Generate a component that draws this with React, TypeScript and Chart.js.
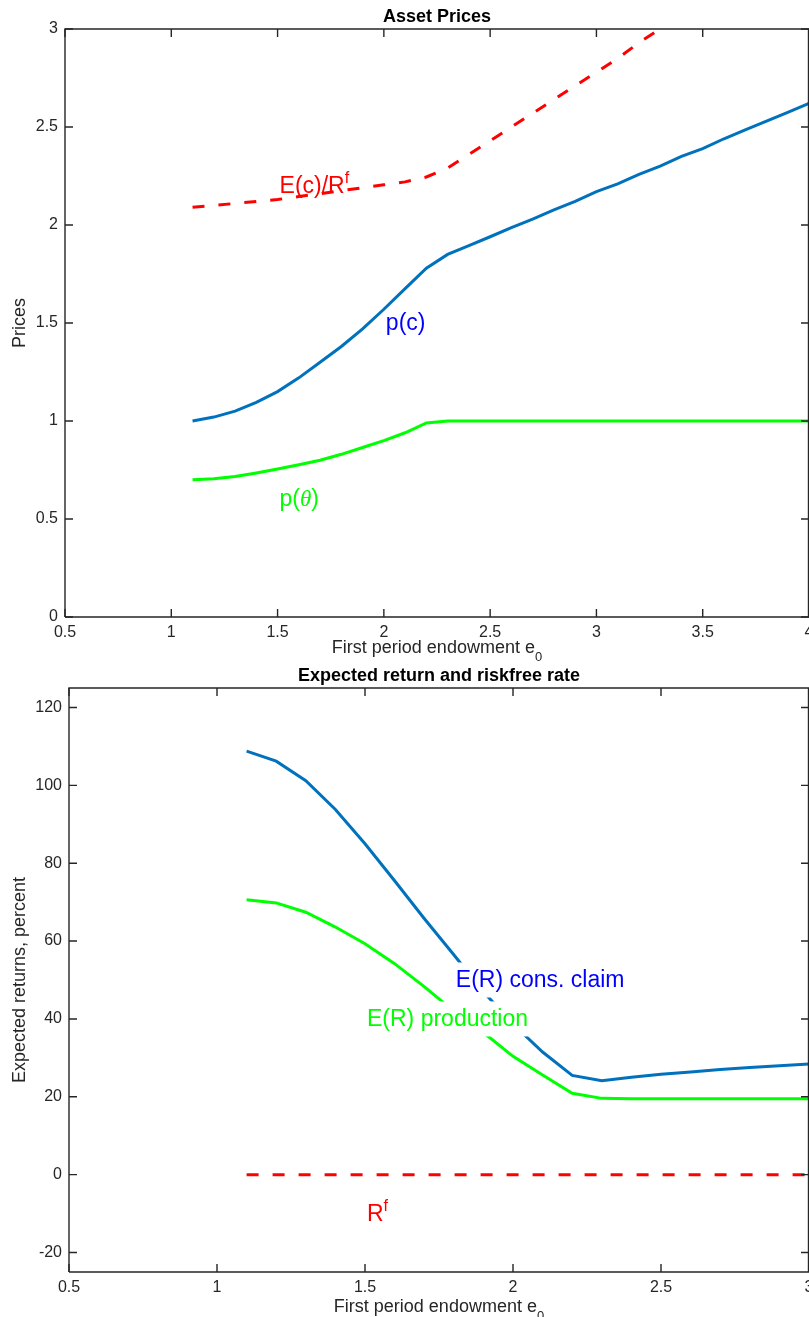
import React, { useEffect, useRef } from "react";
import { Chart, registerables } from "chart.js";

Chart.register(...registerables);

// ---------- data: top panel (Asset Prices) ----------
const eTop = [1.1, 1.2, 1.3, 1.4, 1.5, 1.6, 1.7, 1.8, 1.9, 2.0, 2.1, 2.2, 2.3, 2.4, 2.5, 2.6, 2.7, 2.8, 2.9, 3.0, 3.1, 3.2, 3.3, 3.4, 3.5, 3.6, 3.7, 3.8, 3.9, 4.0];
const priceConsClaim = [1.0, 1.02, 1.05, 1.095, 1.15, 1.22, 1.3, 1.38, 1.47, 1.57, 1.675, 1.78, 1.85, 1.895, 1.94, 1.986, 2.03, 2.077, 2.12, 2.17, 2.21, 2.258, 2.3, 2.35, 2.39, 2.44, 2.485, 2.53, 2.575, 2.62];
const priceProduction = [0.7, 0.705, 0.717, 0.735, 0.755, 0.777, 0.8, 0.83, 0.865, 0.9, 0.94, 0.99, 1.0, 1.0, 1.0, 1.0, 1.0, 1.0, 1.0, 1.0, 1.0, 1.0, 1.0, 1.0, 1.0, 1.0, 1.0, 1.0, 1.0, 1.0];
const discountedConsumption = [2.09, 2.1, 2.11, 2.12, 2.13, 2.145, 2.16, 2.175, 2.19, 2.205, 2.22, 2.245, 2.29, 2.36, 2.43, 2.5, 2.57, 2.64, 2.71, 2.78, 2.85, 2.93, 3.0, 3.07, 3.14, 3.21, 3.28, 3.35, 3.42, 3.49];
const xTicksTop = [0.5, 1, 1.5, 2, 2.5, 3, 3.5, 4];
const yTicksTop = [0, 0.5, 1, 1.5, 2, 2.5, 3];

// ---------- data: bottom panel (Expected returns) ----------
const eBottom = [1.1, 1.2, 1.3, 1.4, 1.5, 1.6, 1.7, 1.8, 1.9, 2.0, 2.1, 2.2, 2.3, 2.4, 2.5, 2.6, 2.7, 2.8, 2.9, 3.0];
const returnConsClaim = [108.8, 106.2, 101.2, 93.8, 85.0, 75.5, 65.8, 56.5, 47.0, 38.7, 31.5, 25.5, 24.1, 25.0, 25.8, 26.4, 27.0, 27.5, 28.0, 28.4];
const returnProduction = [70.6, 69.8, 67.4, 63.6, 59.3, 54.2, 48.3, 42.0, 36.5, 30.4, 25.6, 20.9, 19.6, 19.5, 19.5, 19.5, 19.5, 19.5, 19.5, 19.5];
const riskfreeRate = [0, 0, 0, 0, 0, 0, 0, 0, 0, 0, 0, 0, 0, 0, 0, 0, 0, 0, 0, 0];
const xTicksBottom = [0.5, 1, 1.5, 2, 2.5, 3];
const yTicksBottom = [-20, 0, 20, 40, 60, 80, 100, 120];

const FONT = "'Liberation Sans', Arial, Helvetica, sans-serif";
const SERIF = "'Liberation Serif', 'DejaVu Serif', serif";
const AXIS_COLOR = "#262626";
const BLUE_LINE = "#0072BD";
const GREEN = "#00FF00";
const RED = "#FF0000";
const BLUE_TEXT = "#0000FF";

type Part = { t: string; size: number; dy?: number; style?: string; family?: string };
type Note = { x: number; y: number; color: string; parts: Part[]; bg?: boolean };

type PanelCfg = {
  id: string;
  top: number;
  height: number;
  areaTop: number;
  yAxisWidth: number;
  xAxisHeight: number;
  xMin: number;
  xMax: number;
  yMin: number;
  yMax: number;
  xTicks: number[];
  yTicks: number[];
  title: string;
  titleBaseline: number;
  xLabelBaseline: number;
  yLabel: string;
  yLabelX: number;
  datasets: any[];
  notes: Note[];
};

function fontOf(p: Part) {
  return `${p.style || ""} ${p.size}px ${p.family || FONT}`.trim();
}

function drawParts(ctx: CanvasRenderingContext2D, parts: Part[], x: number, base: number, color: string, align: "left" | "center") {
  const widths = parts.map((p) => {
    ctx.font = fontOf(p);
    return ctx.measureText(p.t).width;
  });
  const total = widths.reduce((a, b) => a + b, 0);
  let cx = align === "center" ? x - total / 2 : x;
  ctx.fillStyle = color;
  ctx.textAlign = "left";
  ctx.textBaseline = "alphabetic";
  parts.forEach((p, i) => {
    ctx.font = fontOf(p);
    ctx.fillText(p.t, cx, base + (p.dy || 0));
    cx += widths[i];
  });
  return total;
}

function makePlugin(cfg: PanelCfg) {
  return {
    id: "deco_" + cfg.id,
    afterDatasetsDraw(chart: any) {
      const ctx: CanvasRenderingContext2D = chart.ctx;
      const xs = chart.scales.x;
      const ys = chart.scales.y;
      const { left, right, top, bottom } = chart.chartArea;
      ctx.save();
      // annotations
      cfg.notes.forEach((n) => {
        const px = xs.getPixelForValue(n.x) + 2;
        const py = ys.getPixelForValue(n.y);
        const widths = n.parts.map((p) => {
          ctx.font = fontOf(p);
          return ctx.measureText(p.t).width;
        });
        const w = widths.reduce((a, b) => a + b, 0);
        if (n.bg) {
          ctx.fillStyle = "#ffffff";
          ctx.fillRect(px - 3, py - 17.5, w + 6, 35);
        }
        drawParts(ctx, n.parts, px, py + 7, n.color, "left");
      });
      // box
      ctx.strokeStyle = AXIS_COLOR;
      ctx.lineWidth = 1.4;
      ctx.beginPath();
      ctx.moveTo(left, bottom);
      ctx.lineTo(left, top);
      ctx.lineTo(right - 0.5, top);
      ctx.lineTo(right - 0.5, bottom);
      ctx.lineTo(left, bottom);
      ctx.stroke();
      // inward ticks
      const tl = 8;
      ctx.beginPath();
      cfg.xTicks.forEach((v) => {
        const px = xs.getPixelForValue(v);
        ctx.moveTo(px, bottom);
        ctx.lineTo(px, bottom - tl);
        ctx.moveTo(px, top);
        ctx.lineTo(px, top + tl);
      });
      cfg.yTicks.forEach((v) => {
        const py = ys.getPixelForValue(v);
        ctx.moveTo(left, py);
        ctx.lineTo(left + tl, py);
        ctx.moveTo(right, py);
        ctx.lineTo(right - tl, py);
      });
      ctx.stroke();
      ctx.restore();
    },
    afterDraw(chart: any) {
      const ctx: CanvasRenderingContext2D = chart.ctx;
      const { left, right, top, bottom } = chart.chartArea;
      const cx = (left + right) / 2;
      const cy = (top + bottom) / 2;
      ctx.save();
      // title
      drawParts(ctx, [{ t: cfg.title, size: 18, style: "bold" }], cx, cfg.titleBaseline, "#000000", "center");
      // x label
      drawParts(
        ctx,
        [
          { t: "First period endowment e", size: 18 },
          { t: "0", size: 13, dy: 8 },
        ],
        cx,
        cfg.xLabelBaseline,
        AXIS_COLOR,
        "center"
      );
      // y label
      ctx.translate(cfg.yLabelX, cy);
      ctx.rotate(-Math.PI / 2);
      ctx.font = `18px ${FONT}`;
      ctx.fillStyle = AXIS_COLOR;
      ctx.textAlign = "center";
      ctx.textBaseline = "middle";
      ctx.fillText(cfg.yLabel, 0, 0);
      ctx.restore();
    },
  };
}

function Panel({ cfg }: { cfg: PanelCfg }) {
  const ref = useRef<HTMLCanvasElement | null>(null);
  useEffect(() => {
    if (!ref.current) return;
    const tickFont = { family: FONT, size: 16 };
    const chart = new Chart(ref.current, {
      type: "line",
      data: { datasets: cfg.datasets },
      options: {
        animation: false,
        responsive: false,
        maintainAspectRatio: false,
        layout: { padding: { top: cfg.areaTop, left: 0, right: 0, bottom: 0 } },
        plugins: {
          legend: { display: false },
          title: { display: false },
          tooltip: { enabled: false },
        },
        elements: { point: { radius: 0 }, line: { tension: 0 } },
        scales: {
          x: {
            type: "linear",
            min: cfg.xMin,
            max: cfg.xMax,
            grid: { display: false, drawTicks: false },
            border: { display: false },
            afterBuildTicks: (s: any) => {
              s.ticks = cfg.xTicks.map((v) => ({ value: v }));
            },
            afterFit: (s: any) => {
              s.height = cfg.xAxisHeight;
              s.paddingLeft = 0;
              s.paddingRight = 0;
            },
            ticks: {
              font: tickFont,
              color: AXIS_COLOR,
              padding: 6,
              maxRotation: 0,
              autoSkip: false,
              callback: (v: any) => String(v),
            },
          },
          y: {
            type: "linear",
            min: cfg.yMin,
            max: cfg.yMax,
            grid: { display: false, drawTicks: false },
            border: { display: false },
            afterBuildTicks: (s: any) => {
              s.ticks = cfg.yTicks.map((v) => ({ value: v }));
            },
            afterFit: (s: any) => {
              s.width = cfg.yAxisWidth;
              s.paddingTop = 0;
              s.paddingBottom = 0;
            },
            ticks: {
              font: tickFont,
              color: AXIS_COLOR,
              padding: 7,
              autoSkip: false,
              callback: (v: any) => String(v),
            },
          },
        },
      } as any,
      plugins: [makePlugin(cfg)],
    });
    return () => chart.destroy();
  }, []);
  return (
    <canvas
      ref={ref}
      width={809}
      height={cfg.height}
      style={{ position: "absolute", left: 0, top: cfg.top, width: 809, height: cfg.height }}
    />
  );
}

const toPts = (xs: number[], ys: number[]) => xs.map((x, i) => ({ x, y: ys[i] }));

const topCfg: PanelCfg = {
  id: "top",
  top: 0,
  height: 668,
  areaTop: 29,
  yAxisWidth: 65,
  xAxisHeight: 668 - 617,
  xMin: 0.5,
  xMax: 4,
  yMin: 0,
  yMax: 3,
  xTicks: xTicksTop,
  yTicks: yTicksTop,
  title: "Asset Prices",
  titleBaseline: 22,
  xLabelBaseline: 653,
  yLabel: "Prices",
  yLabelX: 20,
  datasets: [
    { data: toPts(eTop, priceConsClaim), borderColor: BLUE_LINE, borderWidth: 3, fill: false },
    { data: toPts(eTop, priceProduction), borderColor: GREEN, borderWidth: 3, fill: false },
    { data: toPts(eTop, discountedConsumption), borderColor: RED, borderWidth: 3, borderDash: [12, 14], fill: false },
  ],
  notes: [
    { x: 2.0, y: 1.5, color: BLUE_TEXT, parts: [{ t: "p(c)", size: 23 }] },
    {
      x: 1.5,
      y: 0.6,
      color: GREEN,
      parts: [
        { t: "p(", size: 23 },
        { t: "θ", size: 23, style: "italic", family: SERIF },
        { t: ")", size: 23 },
      ],
    },
    {
      x: 1.5,
      y: 2.2,
      color: RED,
      parts: [
        { t: "E(c)/R", size: 23 },
        { t: "f", size: 16, dy: -10 },
      ],
    },
  ],
};

const bottomCfg: PanelCfg = {
  id: "bottom",
  top: 660,
  height: 657,
  areaTop: 28,
  yAxisWidth: 69,
  xAxisHeight: 657 - 612,
  xMin: 0.5,
  xMax: 3,
  yMin: -25,
  yMax: 125,
  xTicks: xTicksBottom,
  yTicks: yTicksBottom,
  title: "Expected return and riskfree rate",
  titleBaseline: 21,
  xLabelBaseline: 652,
  yLabel: "Expected returns, percent",
  yLabelX: 20,
  datasets: [
    { data: toPts(eBottom, returnConsClaim), borderColor: BLUE_LINE, borderWidth: 3, fill: false },
    { data: toPts(eBottom, returnProduction), borderColor: GREEN, borderWidth: 3, fill: false },
    { data: toPts(eBottom, riskfreeRate), borderColor: RED, borderWidth: 3, borderDash: [12, 14], fill: false },
  ],
  notes: [
    { x: 1.8, y: 50, color: BLUE_TEXT, bg: true, parts: [{ t: "E(R) cons. claim", size: 23 }] },
    { x: 1.5, y: 40, color: GREEN, bg: true, parts: [{ t: "E(R) production", size: 23 }] },
    {
      x: 1.5,
      y: -10,
      color: RED,
      parts: [
        { t: "R", size: 23 },
        { t: "f", size: 16, dy: -10 },
      ],
    },
  ],
};

export default function App() {
  return (
    <div style={{ position: "absolute", left: 0, top: 0, width: 809, height: 1317, background: "#ffffff", overflow: "hidden" }}>
      <Panel cfg={topCfg} />
      <Panel cfg={bottomCfg} />
    </div>
  );
}
